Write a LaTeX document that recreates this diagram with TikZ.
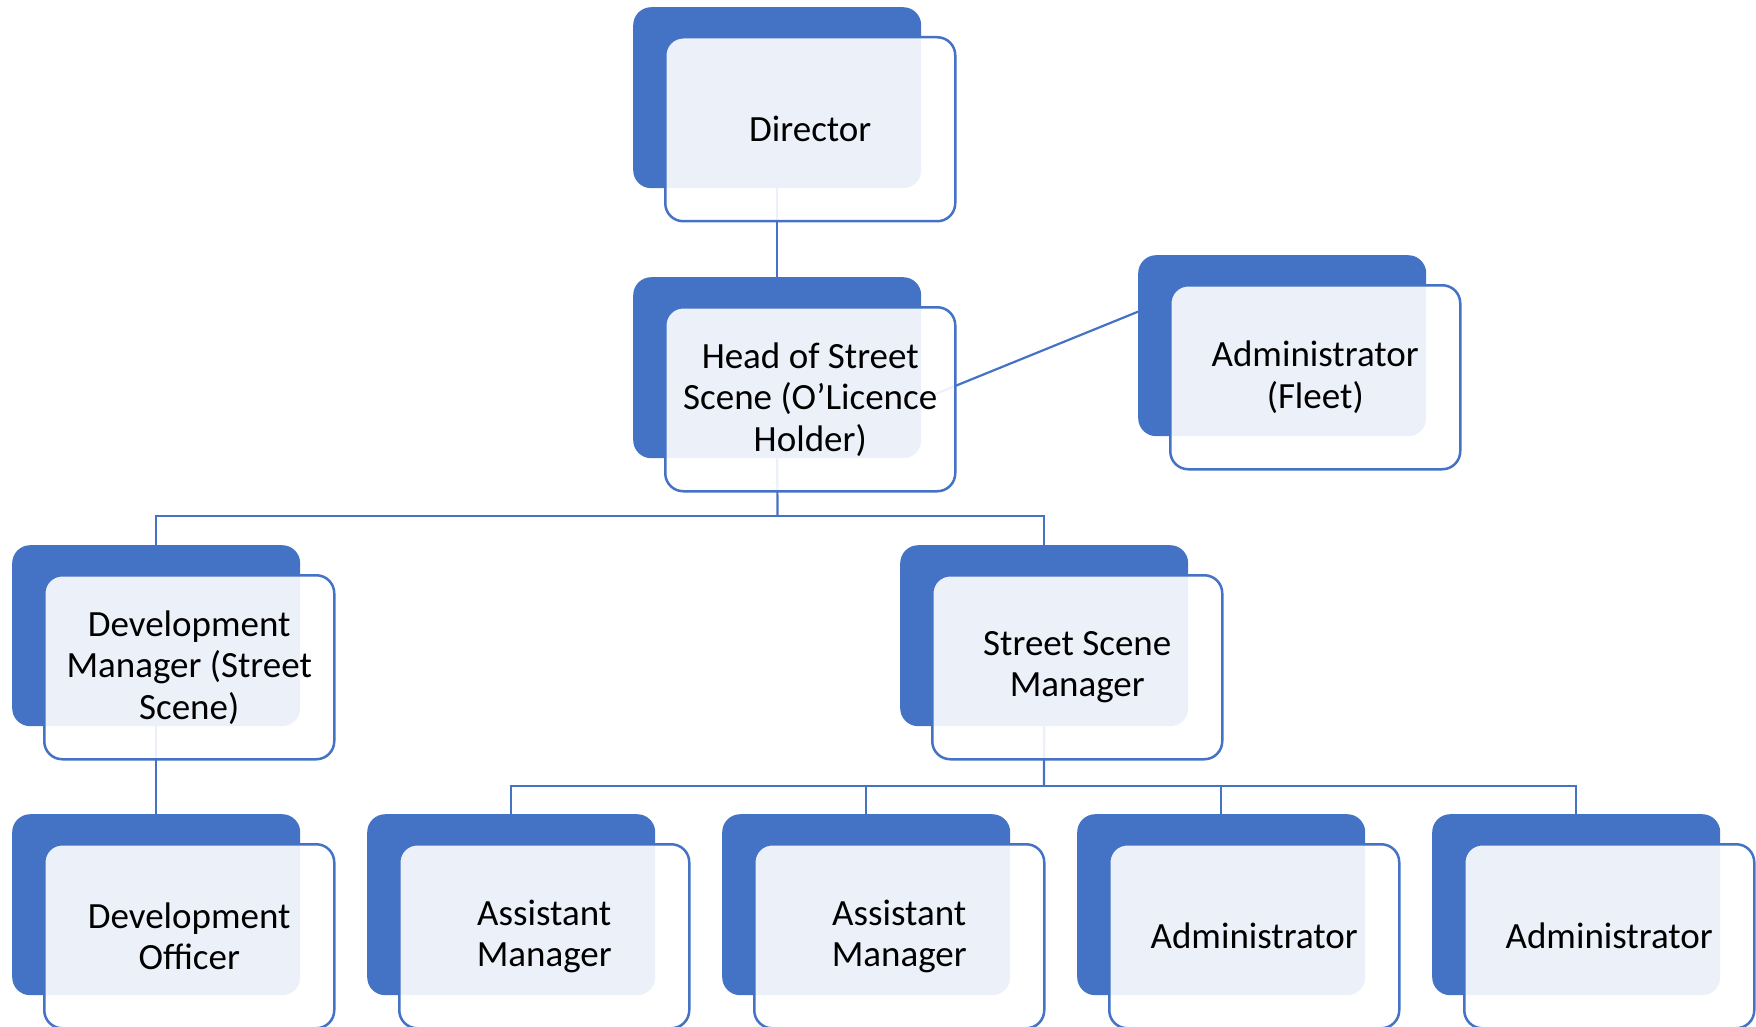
\documentclass[tikz,border=0pt]{standalone}
\usepackage{fontspec}
\setmainfont{Carlito}
\usetikzlibrary{calc}
\pgfdeclarelayer{background}
\pgfsetlayers{background,main}
\definecolor{bl}{HTML}{4472C4}
\tikzset{
  backbox/.style={fill=bl, rounded corners=18pt, minimum width=288pt, minimum height=181pt, anchor=north west, inner sep=0pt, draw=none},
  frontbox/.style={draw=bl, line width=2.5pt, fill=white, fill opacity=0.9, text opacity=1, rounded corners=18pt, minimum width=290pt, minimum height=184pt, anchor=north west, inner sep=0pt, align=center, font=\fontsize{37pt}{41.5pt}\selectfont},
  conn/.style={draw=bl, line width=2.2pt}
}
\newcommand\orgbox[4]{%
  \node[backbox] (#1b) at (#2,#3) {};
  \node[frontbox] (#1) at (#2+31,#3+29) {#4};
}
\begin{document}
\begin{tikzpicture}[x=1pt,y=-1pt]
\useasboundingbox (0,0) rectangle (1756,1027);
\coordinate (bus1) at (777.5,516);
\coordinate (bus2) at (1044,786);
\orgbox{dir}{633}{7}{Director}
\orgbox{head}{633}{277}{Head of Street\\Scene (O’Licence\\Holder)}
\orgbox{fleet}{1138}{255}{Administrator\\(Fleet)}
\orgbox{devm}{12}{545}{Development\\Manager (Street\\Scene)}
\orgbox{ssm}{900}{545}{Street Scene\\Manager}
\orgbox{devo}{12}{814}{Development\\Officer}
\orgbox{amone}{367}{814}{Assistant\\Manager}
\orgbox{amtwo}{722}{814}{Assistant\\Manager}
\orgbox{admone}{1077}{814}{Administrator}
\orgbox{admtwo}{1432}{814}{Administrator}
\begin{pgfonlayer}{background}
  \draw[conn] (dirb.south) -- (headb.north);
  \draw[conn] ($(headb.east)+(0,32)$) -- ($(fleetb.west)+(0,-34)$);
  \draw[conn] (headb.south) -- (bus1);
  \draw[conn] (devmb.north) |- (bus1) -| (ssmb.north);
  \draw[conn] (devmb.south) -- (devob.north);
  \draw[conn] (ssmb.south) -- (bus2);
  \draw[conn] (amoneb.north) |- (bus2) -| (admtwob.north);
  \draw[conn] (amtwob.north) -- (amtwob.north |- bus2);
  \draw[conn] (admoneb.north) -- (admoneb.north |- bus2);
\end{pgfonlayer}
\end{tikzpicture}
\end{document}
